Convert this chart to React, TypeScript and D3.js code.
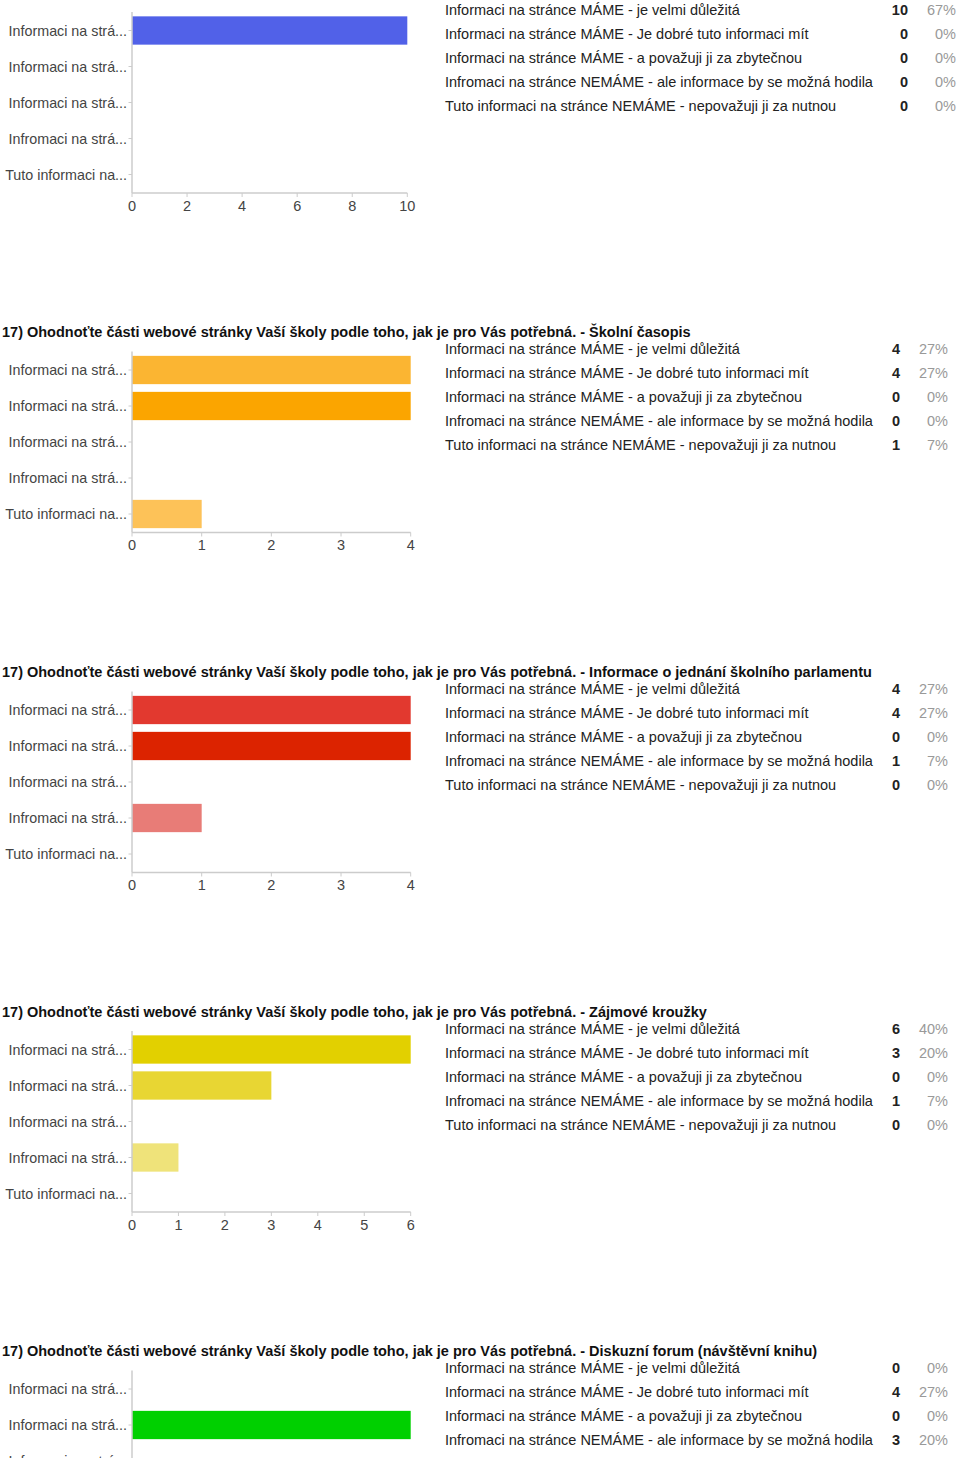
import React from "react";
import * as d3 from "d3";

const titlePrefix = "17) Ohodnoťte části webové stránky Vaší školy podle toho, jak je pro Vás potřebná. - ";
const sectionNames = ["", "Školní časopis", "Informace o jednání školního parlamentu", "Zájmové kroužky", "Diskuzní forum (návštěvní knihu)"];

const categoriesFull = [
  "Informaci na stránce MÁME - je velmi důležitá",
  "Informaci na stránce MÁME - Je dobré tuto informaci mít",
  "Informaci na stránce MÁME - a považuji ji za zbytečnou",
  "Infromaci na stránce NEMÁME - ale informace by se možná hodila",
  "Tuto informaci na stránce NEMÁME - nepovažuji ji za nutnou",
];
const categoriesShort = [
  "Informaci na strá...",
  "Informaci na strá...",
  "Informaci na strá...",
  "Infromaci na strá...",
  "Tuto informaci na...",
];

const counts1 = [10, 0, 0, 0, 0];
const counts2 = [4, 4, 0, 0, 1];
const counts3 = [4, 4, 0, 1, 0];
const counts4 = [6, 3, 0, 1, 0];
const counts5 = [0, 4, 0, 3];

const pcts1 = ["67%", "0%", "0%", "0%", "0%"];
const pcts2 = ["27%", "27%", "0%", "0%", "7%"];
const pcts3 = ["27%", "27%", "0%", "7%", "0%"];
const pcts4 = ["40%", "20%", "0%", "7%", "0%"];
const pcts5 = ["0%", "27%", "0%", "20%"];

const axisMax = [10, 4, 4, 6, 4];
const ticks1 = [0, 2, 4, 6, 8, 10];
const ticks2 = [0, 1, 2, 3, 4];
const ticks3 = [0, 1, 2, 3, 4];
const ticks4 = [0, 1, 2, 3, 4, 5, 6];
const ticks5 = [0, 1, 2, 3, 4];

const colors1 = ["#5161e8", "#5161e8", "#5161e8", "#5161e8", "#5161e8"];
const colors2 = ["#fbb532", "#fba500", "#fbb532", "#fbb532", "#fdc258"];
const colors3 = ["#e2392f", "#dc2300", "#e2392f", "#e87c77", "#e87c77"];
const colors4 = ["#e2d000", "#e8d633", "#e8d633", "#efe37a", "#efe37a"];
const colors5 = ["#00d000", "#00d000", "#00d000", "#00d000", "#00d000"];

const sections = [
  { name: sectionNames[0], counts: counts1, pcts: pcts1, max: axisMax[0], ticks: ticks1, colors: colors1, titleY: -7.5, right: 407.3 },
  { name: sectionNames[1], counts: counts2, pcts: pcts2, max: axisMax[1], ticks: ticks2, colors: colors2, titleY: 332, right: 410.7 },
  { name: sectionNames[2], counts: counts3, pcts: pcts3, max: axisMax[2], ticks: ticks3, colors: colors3, titleY: 672, right: 410.7 },
  { name: sectionNames[3], counts: counts4, pcts: pcts4, max: axisMax[3], ticks: ticks4, colors: colors4, titleY: 1011.5, right: 410.7 },
  { name: sectionNames[4], counts: counts5, pcts: pcts5, max: axisMax[4], ticks: ticks5, colors: colors5, titleY: 1351, right: 410.7 },
];

const FONT = "'Liberation Sans', Arial, sans-serif";
const AXIS = "#cccccc";

function Section({ s }: { s: (typeof sections)[number] }) {
  const T = s.titleY;
  const left = 132;
  const idx = categoriesShort.map((_, i) => i);
  const y = d3.scaleBand<number>().domain(idx).range([T + 20, T + 200]).paddingInner(0.214).paddingOuter(0.107);
  const x = d3.scaleLinear().domain([0, s.max]).range([left, s.right]);
  const maxDigits = d3.max(s.counts, (c) => String(c).length) || 1;
  const extra = (maxDigits - 1) * 8;
  const countX = 900 + extra;
  const pctX = 948 + extra;
  const baseY = T + 200.5;
  return (
    <g>
      {s.name ? (
        <text x={2} y={T} dy="0.35em" fontFamily={FONT} fontWeight="bold" fontSize={14.5} fill="#111">
          {titlePrefix + s.name}
        </text>
      ) : null}
      {s.counts.map((c, i) => (
        <g key={"row" + i}>
          <text x={445} y={T + 17 + i * 24} dy="0.35em" fontFamily={FONT} fontSize={14.5} fill="#222">
            {categoriesFull[i]}
          </text>
          <text x={countX} y={T + 17 + i * 24} dy="0.35em" fontFamily={FONT} fontSize={14.5} fontWeight="bold" fill="#222" textAnchor="end">
            {c}
          </text>
          <text x={pctX} y={T + 17 + i * 24} dy="0.35em" fontFamily={FONT} fontSize={14.5} fill="#999" textAnchor="end">
            {s.pcts[i]}
          </text>
        </g>
      ))}
      {/* bars */}
      {s.counts.map((c, i) =>
        c > 0 ? (
          <rect key={"bar" + i} x={x(0)} y={y(i)!} width={x(c) - x(0)} height={y.bandwidth()} fill={s.colors[i]} />
        ) : null
      )}
      {/* y axis */}
      <line x1={left} x2={left} y1={T + 19.5} y2={baseY} stroke={AXIS} strokeWidth={1.5} />
      {idx.map((i) => (
        <g key={"yt" + i}>
          <line x1={left - 3.5} x2={left} y1={y(i)! + y.bandwidth() / 2} y2={y(i)! + y.bandwidth() / 2} stroke={AXIS} strokeWidth={1} />
          <text x={127} y={y(i)! + y.bandwidth() / 2} dy="0.35em" textAnchor="end" fontFamily={FONT} fontSize={14.3} fill="#444">
            {categoriesShort[i]}
          </text>
        </g>
      ))}
      {/* x axis */}
      <line x1={left} x2={s.right} y1={baseY} y2={baseY} stroke={AXIS} strokeWidth={1.5} />
      {s.ticks.map((t) => (
        <g key={"xt" + t}>
          <line x1={x(t)} x2={x(t)} y1={baseY} y2={baseY + 4} stroke={AXIS} strokeWidth={1} />
          <text x={x(t)} y={T + 213} dy="0.35em" textAnchor="middle" fontFamily={FONT} fontSize={14.5} fill="#444">
            {t}
          </text>
        </g>
      ))}
    </g>
  );
}

export default function App() {
  return (
    <div style={{ position: "absolute", left: 0, top: 0, width: 960, height: 1458, overflow: "hidden", background: "#fff" }}>
      <svg width={960} height={1458} style={{ display: "block" }}>
        <rect x={0} y={0} width={960} height={1458} fill="#fff" />
        {sections.map((s, k) => (
          <Section key={k} s={s} />
        ))}
      </svg>
    </div>
  );
}
